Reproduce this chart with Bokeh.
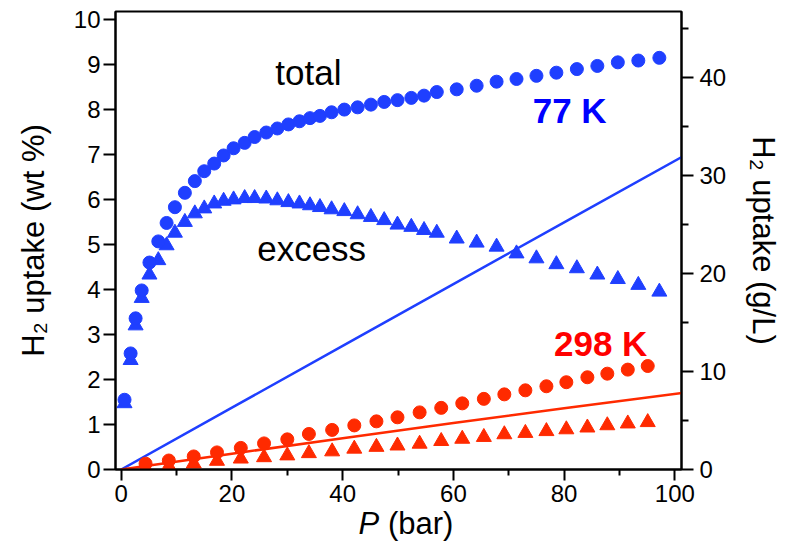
from bokeh.plotting import figure
from bokeh.models import Range1d, LinearAxis, FixedTicker, Label, Div
from bokeh.layouts import column
from bokeh.embed import file_html
from bokeh.resources import INLINE

# ---- data ----
P77 = [0.6, 1.7, 2.6, 3.7, 5.1, 6.7, 8.2, 9.7, 11.5, 13.3, 15.0, 16.8, 18.5, 20.3,
       22.3, 24.1, 26.2, 28.2, 30.2, 32.2, 34.1, 35.9, 38.0, 40.3, 42.7, 45.1, 47.5,
       49.9, 52.4, 54.7, 57.0, 60.6, 64.2, 67.8, 71.4, 75.0, 78.6, 82.3, 86.0, 89.7,
       93.4, 97.2]
total77 = [1.55, 2.58, 3.36, 3.98, 4.60, 5.07, 5.48, 5.83, 6.15, 6.41, 6.63, 6.80,
           6.98, 7.14, 7.26, 7.39, 7.49, 7.58, 7.67, 7.74, 7.81, 7.86, 7.94, 8.00,
           8.05, 8.11, 8.17, 8.21, 8.26, 8.31, 8.39, 8.45, 8.53, 8.62, 8.68, 8.75,
           8.82, 8.90, 8.97, 9.05, 9.09, 9.15]
excess77 = [1.47, 2.43, 3.20, 3.81, 4.33, 4.65, 4.98, 5.26, 5.50, 5.69, 5.80, 5.91,
            5.97, 6.00, 6.03, 6.03, 6.02, 5.98, 5.94, 5.91, 5.87, 5.83, 5.78, 5.74,
            5.67, 5.61, 5.54, 5.44, 5.39, 5.32, 5.26, 5.13, 5.04, 4.95, 4.80, 4.69,
            4.56, 4.47, 4.33, 4.23, 4.10, 3.95]

P298 = [4.4, 8.6, 13.1, 17.3, 21.6, 25.8, 30.0, 33.9, 38.1, 42.1, 46.1, 49.9, 53.9,
        57.8, 61.6, 65.5, 69.2, 73.0, 76.8, 80.4, 84.2, 87.8, 91.5, 95.1]
total298 = [0.13, 0.20, 0.29, 0.38, 0.48, 0.58, 0.67, 0.79, 0.88, 0.98, 1.07, 1.16,
            1.27, 1.37, 1.47, 1.57, 1.67, 1.76, 1.85, 1.94, 2.05, 2.13, 2.22, 2.30]
excess298 = [0.03, 0.07, 0.13, 0.19, 0.24, 0.27, 0.31, 0.36, 0.40, 0.46, 0.50, 0.53,
             0.57, 0.63, 0.68, 0.72, 0.78, 0.81, 0.85, 0.89, 0.93, 0.98, 1.02, 1.05]

# compressed gas density (right axis, g/L)
P_gas = [0, 20, 40, 60, 80, 102]
gas77 = [0, 6.3, 12.6, 18.9, 25.2, 32.1]
gas298 = [0, 1.61, 3.19, 4.74, 6.25, 7.85]

x_ticks = [0, 20, 40, 60, 80, 100]
x_minor = [10, 30, 50, 70, 90]
yl_ticks = [0, 1, 2, 3, 4, 5, 6, 7, 8, 9, 10]
yr_ticks = [0, 10, 20, 30, 40]
yr_minor = [5, 15, 25, 35, 45]

BLUE = "#1f3fff"
RED = "#ff2a00"
FONT = "Liberation Sans"

p = figure(width=786, height=520, x_range=Range1d(-1.03, 101.2),
           y_range=Range1d(0, 10.18), output_backend="svg", toolbar_location=None,
           min_border_left=115, min_border_right=105, min_border_top=11,
           min_border_bottom=51)
p.extra_y_ranges = {"gl": Range1d(0, 46.7)}
p.grid.visible = False
p.outline_line_color = "black"
p.outline_line_width = 2
p.outline_line_alpha = 1.0
p.background_fill_color = "white"
p.border_fill_color = "white"

def style_axis(ax, ticks, minor, major_len, minor_len):
    ax.ticker = FixedTicker(ticks=ticks, minor_ticks=minor)
    ax.axis_line_width = 2
    ax.axis_line_color = "black"
    ax.major_tick_line_width = 2
    ax.minor_tick_line_width = 2
    ax.major_tick_out = major_len
    ax.major_tick_in = 0
    ax.minor_tick_out = minor_len
    ax.minor_tick_in = 0
    ax.major_label_text_font = FONT
    ax.major_label_text_font_size = "24px"
    ax.major_label_text_color = "black"
    ax.axis_label_text_font = FONT
    ax.axis_label_text_font_size = "31px"
    ax.axis_label_text_font_style = "normal"
    ax.axis_label_text_color = "black"

style_axis(p.xaxis[0], x_ticks, x_minor, 11, 6)
p.xaxis[0].major_label_standoff = 4
p.xaxis[0].axis_label = None

style_axis(p.yaxis[0], yl_ticks, [], 12, 0)
p.yaxis[0].major_label_standoff = 3
p.yaxis[0].axis_label = "H₂ uptake (wt %)"
p.yaxis[0].axis_label_standoff = 20

rax = LinearAxis(y_range_name="gl")
style_axis(rax, yr_ticks, yr_minor, 12, 7)
rax.major_label_standoff = 6
rax.axis_label = "H₂ uptake (g/L)"
rax.axis_label_standoff = 17
p.add_layout(rax, "right")

# gas density lines
p.line(P_gas, gas77, y_range_name="gl", line_color=BLUE, line_width=2.5)
p.line(P_gas, gas298, y_range_name="gl", line_color=RED, line_width=2.5)

# markers
p.scatter(P77, excess77, marker="triangle", size=15, color=BLUE)
p.scatter(P77, total77, marker="circle", size=13, color=BLUE)
p.scatter(P298, excess298, marker="triangle", size=15, color=RED)
p.scatter(P298, total298, marker="circle", size=13, color=RED)

# annotations
def lab(x, y, text, color="black", style="normal", size="35px"):
    p.add_layout(Label(x=x, y=y, text=text, text_color=color, text_font=FONT,
                       text_font_size=size, text_font_style=style,
                       text_align="center", text_baseline="middle"))

lab(33.8, 8.82, "total")
lab(34.4, 4.91, "excess")
lab(81.0, 7.98, "77 K", color="#0000ff", style="bold")
lab(86.6, 2.80, "298 K", color="#ff0000", style="bold")

xlabel = Div(
    text=("<div style=\"position:relative; top:-19px; width:786px; text-align:center;"
          " padding-left:16px; box-sizing:border-box; font-family:'Liberation Sans';"
          " font-size:31px; line-height:36px; color:black; white-space:nowrap;\">"
          "<i>P</i> (bar)</div>"),
    width=786, height=36)

layout = column(p, xlabel, spacing=0)
open("out.html", "w").write(file_html(layout, INLINE))
